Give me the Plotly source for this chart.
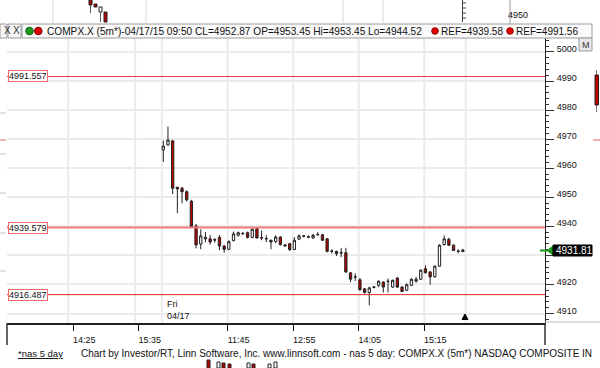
import plotly.graph_objects as go

# ---------------- data ----------------
bar_idx = list(range(65))
opens = [4966.3, 4968.0, 4969.4, 4953.45, 4953.1, 4951.9, 4948.6, 4940.1, 4933.9, 4936.2,
         4935.7, 4935.4, 4936.2, 4933.2, 4932.1, 4935.1, 4936.9, 4937.6, 4937.8, 4936.2,
         4939.2, 4936.1, 4935.8, 4935.2, 4934.8, 4936.3, 4933.6, 4934.0, 4932.0, 4935.6,
         4936.6, 4936.4, 4936.0, 4937.1, 4937.1, 4935.7, 4931.5, 4931.4, 4930.8, 4930.9,
         4924.0, 4922.5, 4921.6, 4918.5, 4917.2, 4919.0, 4919.7, 4920.8, 4921.0, 4919.1,
         4922.2, 4919.1, 4918.0, 4919.7, 4921.1, 4921.8, 4925.4, 4924.3, 4922.6, 4926.3,
         4933.7, 4935.5, 4933.5, 4931.5, 4931.3]
highs = [4969.5, 4974.3, 4969.8, 4953.45, 4953.6, 4952.4, 4949.1, 4940.8, 4939.0, 4938.0,
         4937.0, 4935.9, 4937.0, 4933.6, 4935.2, 4938.2, 4938.2, 4938.0, 4938.2, 4939.3,
         4939.4, 4938.6, 4936.9, 4935.4, 4936.9, 4936.6, 4933.9, 4934.3, 4936.3, 4937.2,
         4937.0, 4936.9, 4937.4, 4938.0, 4937.4, 4935.9, 4932.1, 4931.6, 4932.5, 4932.6,
         4924.2, 4923.8, 4922.2, 4918.8, 4919.2, 4919.4, 4921.4, 4921.1, 4922.0, 4921.7,
         4922.5, 4919.4, 4920.3, 4922.1, 4922.6, 4925.2, 4926.6, 4924.6, 4926.5, 4933.8,
         4936.9, 4936.1, 4933.8, 4932.1, 4932.3]
lows = [4962.2, 4967.8, 4951.1, 4944.52, 4947.9, 4948.5, 4939.8, 4932.4, 4932.1, 4934.5,
        4933.7, 4934.4, 4931.8, 4930.9, 4931.8, 4934.8, 4936.5, 4937.0, 4935.8, 4935.9,
        4935.8, 4935.2, 4934.6, 4932.1, 4934.2, 4933.4, 4933.0, 4931.5, 4931.8, 4935.3,
        4936.2, 4935.9, 4935.7, 4936.7, 4935.0, 4931.0, 4930.6, 4929.8, 4929.4, 4924.0,
        4920.8, 4921.2, 4917.8, 4916.9, 4912.8, 4918.6, 4919.1, 4917.2, 4917.2, 4918.8,
        4918.8, 4917.4, 4917.7, 4919.4, 4920.6, 4921.5, 4923.8, 4919.9, 4922.3, 4926.1,
        4933.4, 4933.3, 4931.5, 4930.7, 4931.2]
closes = [4967.6, 4969.7, 4953.1, 4952.87, 4951.9, 4949.1, 4939.9, 4933.6, 4936.7, 4935.7,
          4934.6, 4935.3, 4933.2, 4932.1, 4934.7, 4937.4, 4937.8, 4937.5, 4936.2, 4939.0,
          4936.0, 4936.0, 4935.7, 4934.6, 4936.3, 4933.7, 4933.3, 4932.0, 4935.2, 4936.7,
          4936.7, 4936.3, 4936.9, 4937.2, 4935.2, 4931.4, 4931.4, 4930.6, 4930.9, 4924.3,
          4921.8, 4922.6, 4918.2, 4917.2, 4918.8, 4919.1, 4921.1, 4919.1, 4921.1, 4921.4,
          4919.1, 4917.6, 4919.9, 4921.8, 4921.8, 4924.9, 4924.0, 4922.6, 4926.3, 4933.5,
          4935.7, 4933.5, 4931.7, 4931.4, 4931.81]

ref_levels = [4991.557, 4939.579, 4916.487]
ref_labels = ["4991.557", "4939.579", "4916.487"]
y_tick_vals = [4910, 4920, 4930, 4940, 4950, 4960, 4970, 4980, 4990, 5000]
y_tick_text = ["4910", "4920", "", "4940", "4950", "4960", "4970", "4980", "4990", "5000"]
x_tick_pos = [-19.25, -5.25, 13.75, 27.75, 41.75, 55.75]
x_tick_text = ["14:25", "15:35", "11:45", "12:55", "14:05", "15:15"]
x_grid_pos = [-20.3, -6.0, -0.3, 13.75, 27.75, 41.75, 55.75, 64.6]
last_price = 4931.81
header_main = "COMPX.X (5m*)-04/17/15 09:50 CL=4952.87 OP=4953.45 Hi=4953.45 Lo=4944.52"
header_refs = ["REF=4939.58", "REF=4991.56"]
footer_link = "*nas 5 day"
footer_text = "Chart by Investor/RT, Linn Software, Inc. www.linnsoft.com - nas 5 day: COMPX.X (5m*) NASDAQ COMPOSITE IN"

# ---------------- layout helpers ----------------
W, H = 600, 368
FONT = "Liberation Sans, Arial, sans-serif"


def px(x):
    return x / W


def py(y):
    return 1 - y / H


X_L, X_R = 7, 545
Y_T, Y_B = 38, 323
x_range = [-33.39, 81.54]
y_range = [4906.73, 5004.8]

fig = go.Figure()
fig.add_trace(go.Candlestick(
    x=bar_idx, open=opens, high=highs, low=lows, close=closes,
    increasing=dict(fillcolor="white", line=dict(color="#222222", width=1)),
    decreasing=dict(fillcolor="#bb0000", line=dict(color="#222222", width=1)),
    whiskerwidth=0, hoverinfo="skip", showlegend=False,
))

shapes = []
# vertical grid lines
for gx in x_grid_pos:
    shapes.append(dict(type="line", xref="x", yref="y domain", x0=gx, x1=gx, y0=0, y1=1,
                       line=dict(color="#ebebeb", width=2), layer="below"))
# reference level lines
ref_styles = [dict(color="#e43c3c", width=1), dict(color="#f27a7a", width=2), dict(color="#e02424", width=1)]
for lvl, st in zip(ref_levels, ref_styles):
    shapes.append(dict(type="line", xref="x domain", yref="y", x0=0, x1=1, y0=lvl, y1=lvl,
                       line=st, layer="above"))

def pline(x0, y0, x1, y1, color, width=1):
    shapes.append(dict(type="line", xref="paper", yref="paper", x0=px(x0), x1=px(x1),
                       y0=py(y0), y1=py(y1), line=dict(color=color, width=width)))

def prect(x0, y0, x1, y1, fill, line="rgba(0,0,0,0)", width=1):
    shapes.append(dict(type="rect", xref="paper", yref="paper", x0=px(x0), x1=px(x1),
                       y0=py(y0), y1=py(y1), fillcolor=fill, line=dict(color=line, width=width)))

def pcircle(cx, cy, r, fill, line):
    shapes.append(dict(type="circle", xref="paper", yref="paper", x0=px(cx - r), x1=px(cx + r),
                       y0=py(cy + r), y1=py(cy - r), fillcolor=fill, line=dict(color=line, width=1)))

# x-axis box sides, y axis extension
pline(X_L, Y_B, X_L, 345, "#333333", 1.5)
pline(X_R, Y_B, X_R, 345, "#333333", 1.5)
pline(X_R, 322, 600, 322, "#bdbdbd", 1)

# background clutter (windows behind)
for gx in [53, 146, 343, 383]:
    pline(gx, 0, gx, 23, "#e6e6e6", 1.5)
pline(462.5, 0, 462.5, 22, "#444444", 1)
for ty in [3, 8, 13, 18]:
    pline(462.5, ty, 466, ty, "#444444", 1)
pline(510, 0, 510, 24, "#9a9a9a", 1)
prect(89, 0, 92, 5, "#bb0000", "#222")
pline(90.5, 5, 90.5, 13, "#555")
prect(94, 4, 97, 7, "#bb0000", "#222")
prect(99, 7, 102, 12, "white", "#222")
pline(100.5, 12, 100.5, 22, "#555")
prect(104, 12, 107, 22, "#bb0000", "#222")
for ly, lc in [(113, "#d8d8d8"), (140, "#f29a9a"), (154, "#d8d8d8"), (193, "#d8d8d8"), (233, "#d8d8d8"), (271, "#d8d8d8")]:
    pline(0, ly, 6, ly, lc, 1.5)
pline(593, 140, 600, 140, "#f29a9a", 1.5)
pline(596.5, 70, 596.5, 112, "#777", 1)
prect(595, 75, 598.5, 105, "#bb0000", "#222")
# bottom clutter
for bx, by0, by1, fc in [(207, 360, 368, "#bb0000"), (217, 362, 368, "white"), (222, 363, 368, "#bb0000"),
                         (228, 364, 368, "#bb0000"), (247, 363, 368, "white"), (252, 364, 368, "#bb0000"),
                         (268, 364, 368, "white"), (274, 362, 368, "white")]:
    prect(bx, by0, bx + 3, by1, fc, "#222")

# header bar
prect(0, 24, 7, 38, "#f6f6f6", "#9a9a9a")
prect(8, 24, 21, 38, "#f6f6f6", "#9a9a9a")
prect(22, 24, 592, 38, "#fafafa", "#9a9a9a")
pcircle(29.5, 31, 3.8, "#1f9a1f", "#145f14")
pcircle(38.3, 31, 3.8, "#dd0000", "#7a0000")
pcircle(435, 31, 3.3, "#e00000", "#900000")
pcircle(510, 31, 3.3, "#e00000", "#900000")

# right axis: M button, price marker
prect(579, 38, 592, 51, "#e9e9e9", "#9a9a9a")
shapes.append(dict(type="path", xref="paper", yref="paper",
                   path=f"M {px(547)} {py(250.5)} L {px(553)} {py(246)} L {px(553)} {py(255)} Z",
                   fillcolor="#1f9a1f", line=dict(color="#1f9a1f", width=1)))
pline(540, 250.5, 548, 250.5, "#1f9a1f", 2)
prect(553, 245, 592, 256, "black", "black")
# time marker triangle
shapes.append(dict(type="path", xref="paper", yref="paper",
                   path=f"M {px(462)} {py(319.5)} L {px(468)} {py(319.5)} L {px(465)} {py(314)} Z",
                   fillcolor="black", line=dict(color="black", width=1)))

annotations = []
def ptext(x, y, text, size, color="#111", anchor="left", **kw):
    annotations.append(dict(xref="paper", yref="paper", x=px(x), y=py(y), text=text,
                            showarrow=False, xanchor=anchor, yanchor="middle",
                            font=dict(family=FONT, size=size, color=color), **kw))

# reference level labels (on the y scale)
for lvl, lab, st in zip(ref_levels, ref_labels, ref_styles):
    annotations.append(dict(xref="paper", yref="y", x=px(8), y=lvl, text=lab, showarrow=False,
                            xanchor="left", yanchor="middle",
                            font=dict(family=FONT, size=9, color="#111"),
                            bgcolor="white", bordercolor="#f06a6a", borderwidth=1, borderpad=0))

ptext(165, 304, "Fri", 9)
ptext(165, 316, "04/17", 9)
ptext(1.5, 31, "X", 10, "#333")
ptext(10.5, 31, "X", 10, "#333")
ptext(45, 31.5, header_main, 10.15)
ptext(439, 31.5, header_refs[0], 10)
ptext(514, 31.5, header_refs[1], 10)
ptext(585.5, 44.5, "M", 9, "#333", anchor="center")
ptext(554, 250.5, f"{last_price:.2f}", 10, "white")
ptext(506, 15, "4950", 9)
ptext(16, 353, f"<u>{footer_link}</u>", 9.5)
ptext(79, 353, footer_text, 10)

fig.update_layout(
    width=W, height=H, margin=dict(l=0, r=0, t=0, b=0),
    paper_bgcolor="white", plot_bgcolor="white",
    showlegend=False, shapes=shapes, annotations=annotations,
    font=dict(family=FONT, size=9, color="#111"),
    xaxis=dict(domain=[px(X_L), px(X_R)], range=x_range, rangeslider=dict(visible=False),
               showgrid=False, zeroline=False, tickmode="array", tickvals=x_tick_pos,
               ticktext=x_tick_text, ticks="outside", ticklen=6, tickcolor="#111", tickwidth=1,
               showline=True, linecolor="#222", linewidth=2, ticklabelshift=11,
               ticklabelstandoff=1,
               tickfont=dict(family=FONT, size=9, color="#111"), fixedrange=True),
    yaxis=dict(domain=[py(Y_B), py(Y_T)], range=y_range, side="right",
               tickmode="array", tickvals=y_tick_vals, ticktext=y_tick_text, ticks="outside", ticklen=8,
               tickcolor="#333", tickwidth=1, showline=True, linecolor="#222", linewidth=1,
               showgrid=True, gridcolor="#ebebeb", gridwidth=2, zeroline=False,
               minor=dict(dtick=2, tick0=4910, ticklen=3, tickcolor="#333", ticks="outside", showgrid=False),
               ticklabelshift=-3, ticklabelstandoff=1,
               tickfont=dict(family=FONT, size=9, color="#111"), fixedrange=True),
)

fig.write_html("out.html", config={"displayModeBar": False})
